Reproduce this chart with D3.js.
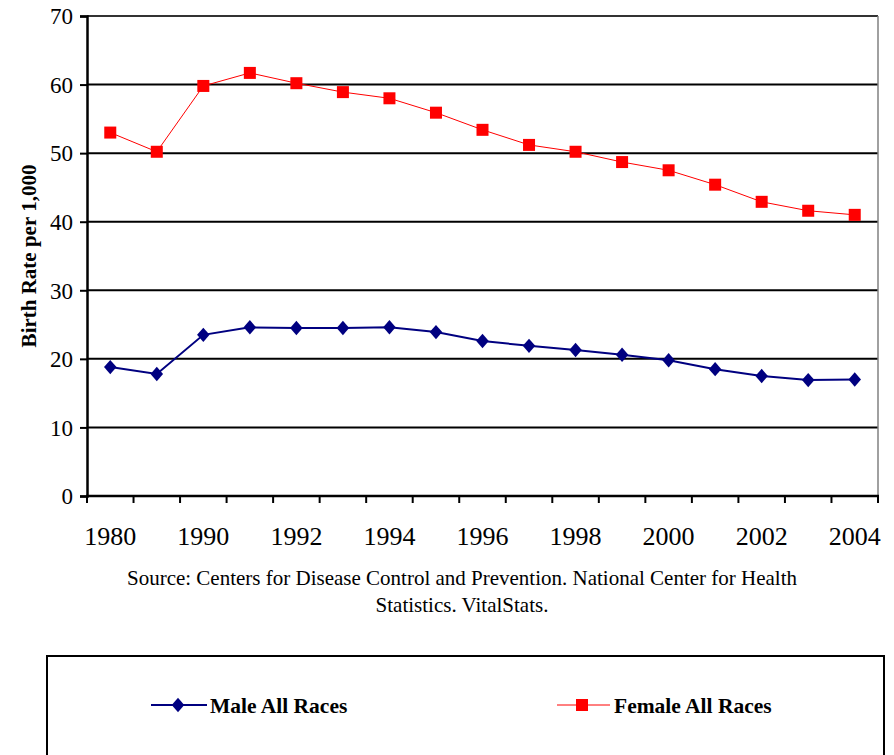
<!DOCTYPE html>
<html>
<head>
<meta charset="utf-8">
<script src="https://cdn.jsdelivr.net/npm/d3@7/dist/d3.min.js"></script>
<style>
  html, body { margin: 0; padding: 0; background: #fff; }
  svg { display: block; }
  svg text { font-family: "Liberation Serif", "Times New Roman", serif; fill: #000; }
</style>
</head>
<body>
<svg id="chart" width="894" height="755"></svg>
<script>
// Birth rates per 1,000 by year
const years = ["1980","1985","1990","1991","1992","1993","1994","1995","1996",
               "1997","1998","1999","2000","2001","2002","2003","2004"];
const maleAllRaces = [18.8, 17.8, 23.5, 24.6, 24.5, 24.5, 24.6, 23.9, 22.6,
                      21.9, 21.3, 20.6, 19.8, 18.5, 17.5, 16.9, 17.0];
const femaleAllRaces = [53.0, 50.2, 59.8, 61.7, 60.2, 58.9, 58.0, 55.9, 53.4,
                        51.2, 50.2, 48.7, 47.5, 45.4, 42.9, 41.6, 41.0];
const yTicks = [0, 10, 20, 30, 40, 50, 60, 70];
const xLabels = ["1980","1990","1992","1994","1996","1998","2000","2002","2004"];

const svg = d3.select("#chart");
const plot = { left: 87, right: 878, top: 16, bottom: 496 };

const x = d3.scaleBand().domain(years).range([plot.left, plot.right]).padding(0);
const y = d3.scaleLinear().domain([0, 70]).range([plot.bottom, plot.top]);

// horizontal gridlines
svg.append("g").selectAll("line").data(yTicks.filter(d => d > 0)).join("line")
  .attr("x1", plot.left).attr("x2", plot.right)
  .attr("y1", d => y(d)).attr("y2", d => y(d))
  .attr("stroke", d => d === 70 ? "#333" : "#000").attr("stroke-width", 2);

// right border of plot area
svg.append("line")
  .attr("x1", plot.right).attr("x2", plot.right)
  .attr("y1", plot.top).attr("y2", plot.bottom)
  .attr("stroke", "#808080").attr("stroke-width", 1.5);

// y axis
const yAxis = svg.append("g")
  .attr("transform", `translate(${plot.left},0)`)
  .call(d3.axisLeft(y).tickValues(yTicks).tickSize(7).tickPadding(7));
yAxis.attr("font-family", null).attr("font-size", null);
yAxis.select(".domain").attr("stroke", "#000").attr("stroke-width", 2.5);
yAxis.selectAll(".tick line").attr("stroke", "#000").attr("stroke-width", 2);
yAxis.selectAll(".tick text").attr("font-size", 23).attr("dy", "0.34em");

// x axis: tick marks at category boundaries, labels at category centres
const xAxis = svg.append("g").attr("transform", `translate(0,${plot.bottom})`);
xAxis.append("line")
  .attr("x1", plot.left - 1).attr("x2", plot.right + 1)
  .attr("stroke", "#000").attr("stroke-width", 2.5);
const boundaries = years.map(d => x(d)).concat([x(years[years.length - 1]) + x.bandwidth()]);
xAxis.selectAll("line.tick").data(boundaries).join("line")
  .attr("class", "tick")
  .attr("x1", d => d).attr("x2", d => d)
  .attr("y1", 0).attr("y2", 7)
  .attr("stroke", "#000").attr("stroke-width", 2);
xAxis.selectAll("text").data(xLabels).join("text")
  .attr("x", d => x(d) + x.bandwidth() / 2)
  .attr("y", 49)
  .attr("text-anchor", "middle")
  .attr("font-size", 26)
  .text(d => d);

// y axis title
svg.append("text")
  .attr("transform", `translate(36,256) rotate(-90)`)
  .attr("text-anchor", "middle")
  .attr("font-size", 21).attr("font-weight", "bold")
  .text("Birth Rate per 1,000");

// series
const cx = d => x(d) + x.bandwidth() / 2;
const line = d3.line().x(d => cx(d.year)).y(d => y(d.value));
const maleData = years.map((yr, i) => ({ year: yr, value: maleAllRaces[i] }));
const femaleData = years.map((yr, i) => ({ year: yr, value: femaleAllRaces[i] }));

svg.append("path").datum(femaleData)
  .attr("d", line).attr("fill", "none")
  .attr("stroke", "#FF0000").attr("stroke-width", 1);
svg.append("g").selectAll("rect").data(femaleData).join("rect")
  .attr("x", d => cx(d.year) - 6).attr("y", d => y(d.value) - 6)
  .attr("width", 12).attr("height", 12)
  .attr("fill", "#FF0000");

svg.append("path").datum(maleData)
  .attr("d", line).attr("fill", "none")
  .attr("stroke", "#000080").attr("stroke-width", 2);
const diamond = d3.symbol().type(d3.symbolDiamond2).size(100);
svg.append("g").selectAll("path").data(maleData).join("path")
  .attr("transform", d => `translate(${cx(d.year)},${y(d.value)}) scale(1,1.15)`)
  .attr("d", diamond)
  .attr("fill", "#000080");

// source note
const source = svg.append("text").attr("text-anchor", "middle").attr("font-size", 21);
source.append("tspan").attr("x", 462).attr("y", 585)
  .text("Source: Centers for Disease Control and Prevention. National Center for Health");
source.append("tspan").attr("x", 462).attr("y", 612)
  .text("Statistics. VitalStats.");

// legend
svg.append("rect")
  .attr("x", 47).attr("y", 656).attr("width", 837).attr("height", 120)
  .attr("fill", "none").attr("stroke", "#000").attr("stroke-width", 2);

const legend = svg.append("g");
legend.append("line").attr("x1", 151).attr("x2", 207).attr("y1", 705).attr("y2", 705)
  .attr("stroke", "#000080").attr("stroke-width", 2);
legend.append("path").attr("d", diamond)
  .attr("transform", "translate(178,705) scale(1,1.15)").attr("fill", "#000080");
legend.append("text").attr("x", 210).attr("y", 713)
  .attr("font-size", 21.5).attr("font-weight", "bold").text("Male All Races");

legend.append("line").attr("x1", 557).attr("x2", 610).attr("y1", 705).attr("y2", 705)
  .attr("stroke", "#FF0000").attr("stroke-width", 1);
legend.append("rect").attr("x", 576).attr("y", 699).attr("width", 12).attr("height", 12)
  .attr("fill", "#FF0000");
legend.append("text").attr("x", 614).attr("y", 713)
  .attr("font-size", 21.5).attr("font-weight", "bold").text("Female All Races");
</script>
</body>
</html>
